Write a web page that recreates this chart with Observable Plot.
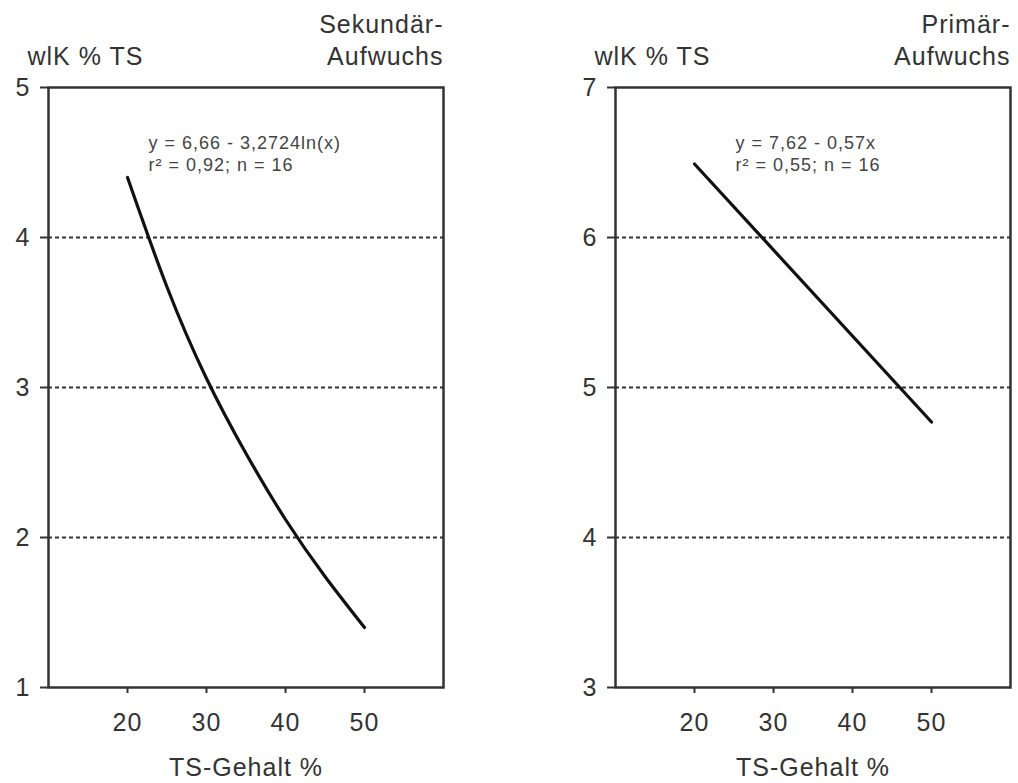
<!DOCTYPE html>
<html><head><meta charset="utf-8">
<script src="https://cdn.jsdelivr.net/npm/d3@7"></script>
<script src="https://cdn.jsdelivr.net/npm/@observablehq/plot@0.6"></script>
<style>
body{margin:0;background:#fff;}
#wrap{display:flex;width:1018px;height:783px;}
</style></head><body><div id="wrap"></div>
<script>
// Data
const xTicks = [20, 30, 40, 50];
const sekX = [20, 25, 30, 35, 40, 45, 50];
const sekY = [4.40, 3.67, 3.06, 2.56, 2.12, 1.74, 1.40];
const primX = [20, 50];
const primY = [6.49, 4.77];
const sekYTicks = [1, 2, 3, 4, 5];
const primYTicks = [3, 4, 5, 6, 7];
const sekGrid = [2, 3, 4];
const primGrid = [4, 5, 6];
const sekEq = "y = 6,66 - 3,2724ln(x)\nr² = 0,92; n = 16";
const primEq = "y = 7,62 - 0,57x\nr² = 0,55; n = 16";
const sekTitle = "Sekundär-\nAufwuchs";
const primTitle = "Primär-\nAufwuchs";
const yLabel = "wlK % TS";
const xLabel = "TS-Gehalt %";

const ink = "#333";

function panel({xs, ys, yTicks, grid, eq, title, marginLeft, marginRight, eqDx}) {
  const data = xs.map((x, i) => ({x, y: ys[i]}));
  return Plot.plot({
    width: 509,
    height: 783,
    marginTop: 87,
    marginBottom: 96,
    marginLeft,
    marginRight,
    style: {fontFamily: "Liberation Sans, Arial, sans-serif", fontSize: "25px", color: ink, background: "white", letterSpacing: "1px"},
    x: {domain: [10, 60]},
    y: {domain: [yTicks[0], yTicks[yTicks.length - 1]]},
    marks: [
      Plot.gridY(grid, {stroke: ink, strokeOpacity: 1, strokeWidth: 2, strokeDasharray: "4,3"}),
      Plot.frame({stroke: ink, strokeWidth: 2.5}),
      Plot.axisY(yTicks, {tickSize: 8, tickPadding: 10, tickFormat: "d", label: null, fontSize: 25, stroke: ink, strokeWidth: 2}),
      Plot.axisX(xTicks, {tickSize: 6, tickPadding: 20, tickFormat: "d", label: null, fontSize: 25, stroke: ink, strokeWidth: 2}),
      Plot.line(data, {x: "x", y: "y", curve: "natural", stroke: "#111", strokeWidth: 3.2}),
      Plot.text([yLabel], {frameAnchor: "top-left", textAnchor: "start", lineAnchor: "bottom", dx: -21, dy: -23, fontSize: 25, fill: ink}),
      Plot.text([title], {frameAnchor: "top-right", textAnchor: "end", lineAnchor: "bottom", dy: -23, lineHeight: 1.28, fontSize: 25, fill: ink}),
      Plot.text([eq], {frameAnchor: "top-left", textAnchor: "start", lineAnchor: "bottom", dx: eqDx, dy: 83, lineHeight: 1.2, fontSize: 18, fill: "#444"}),
      Plot.text([xLabel], {frameAnchor: "bottom", lineAnchor: "bottom", dy: 88, fontSize: 25, fill: ink})
    ]
  });
}

const wrap = document.getElementById("wrap");
wrap.appendChild(panel({xs: sekX, ys: sekY, yTicks: sekYTicks, grid: sekGrid, eq: sekEq, title: sekTitle, marginLeft: 48, marginRight: 66, eqDx: 100}));
wrap.appendChild(panel({xs: primX, ys: primY, yTicks: primYTicks, grid: primGrid, eq: primEq, title: primTitle, marginLeft: 106, marginRight: 8, eqDx: 120}));
</script></body></html>
